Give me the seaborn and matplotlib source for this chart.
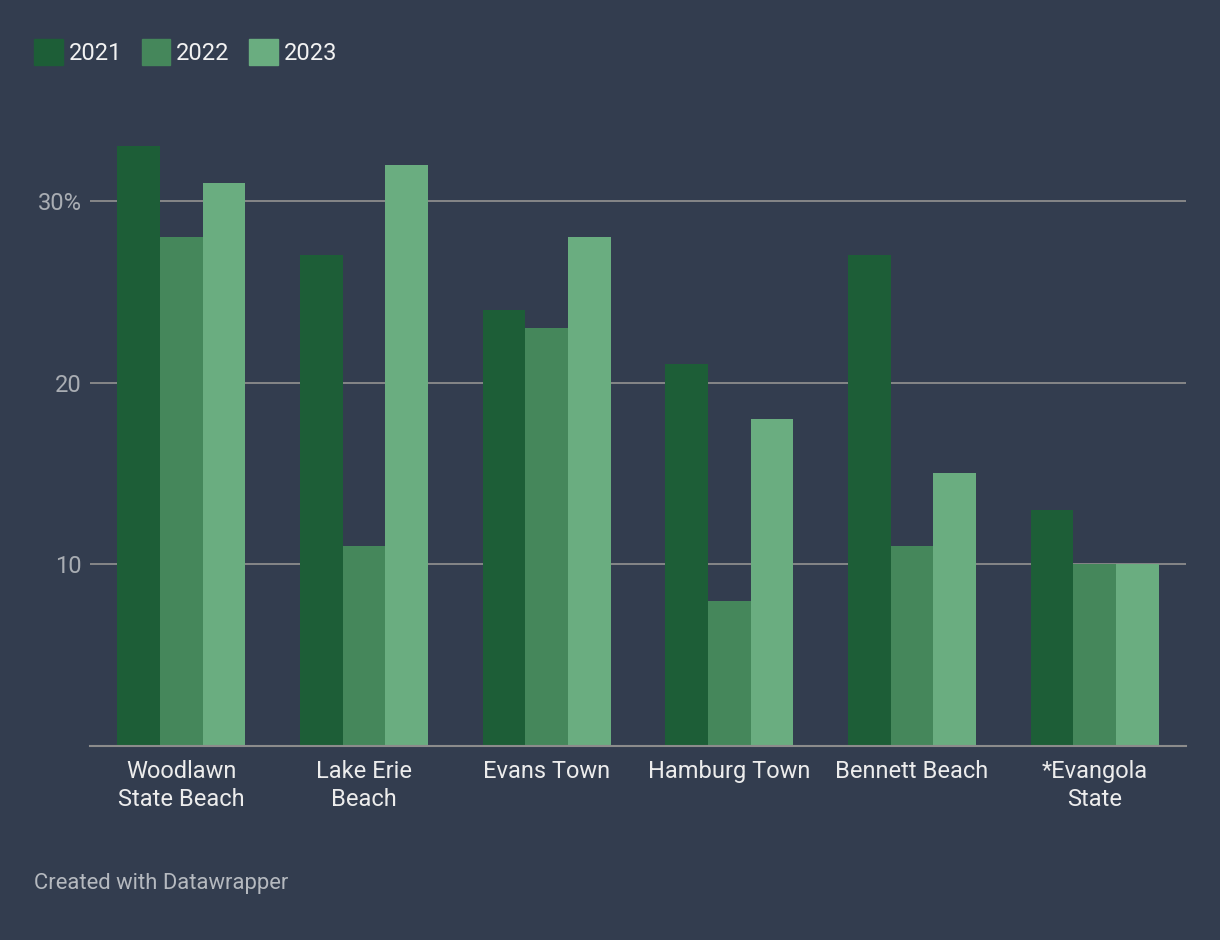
import pandas as pd
import matplotlib.pyplot as plt
import matplotlib.patches as mpatches
import seaborn as sns

# data
BEACHES = ["Woodlawn\nState Beach", "Lake Erie\nBeach", "Evans Town",
           "Hamburg Town", "Bennett Beach", "*Evangola\nState"]
YEARS = ["2021", "2022", "2023"]
V2021 = [33, 27, 24, 21, 27, 13]
V2022 = [28, 11, 23, 8, 11, 10]
V2023 = [31, 32, 28, 18, 15, 10]
YTICKS = [10, 20, 30]
YTICK_LABELS = ["10", "20", "30%"]

BG = "#333d4f"
PALETTE = ["#1d5e37", "#45875b", "#6aad80"]
GRID = "#8c8c8c"

df = pd.DataFrame({
    "beach": BEACHES * 3,
    "year": [y for y in YEARS for _ in BEACHES],
    "value": V2021 + V2022 + V2023,
})

sns.set_theme(style="dark")
plt.rcParams["font.family"] = ["Roboto", "DejaVu Sans"]

fig = plt.figure(figsize=(12.2, 9.4), dpi=100, facecolor=BG)
ax = fig.add_axes([90 / 1220, 1 - 746 / 940, 1096 / 1220, 34 * 18.17 / 940])
ax.set_facecolor(BG)

sns.barplot(data=df, x="beach", y="value", hue="year", palette=PALETTE,
            width=0.7, gap=0, saturation=1, linewidth=0, ax=ax, legend=False,
            zorder=3)

ax.set_xlim(-0.5, 5.5)
ax.set_ylim(0, 34)
ax.set_yticks(YTICKS)
ax.set_yticklabels(YTICK_LABELS)
ax.yaxis.grid(True, color=GRID, linewidth=1.3, zorder=0)
ax.xaxis.grid(False)
ax.set_axisbelow(True)
for s in ["top", "right", "left"]:
    ax.spines[s].set_visible(False)
ax.spines["bottom"].set_color(GRID)
ax.spines["bottom"].set_linewidth(1.5)
ax.spines["bottom"].set_zorder(5)
ax.set_xlabel("")
ax.set_ylabel("")
ax.tick_params(axis="y", length=0, pad=6, labelsize=17, labelcolor="#a9adb3")
ax.tick_params(axis="x", length=0, pad=10, labelsize=17, labelcolor="#ececec")
for lab in ax.get_xticklabels():
    lab.set_linespacing(1.27)

handles = [mpatches.Patch(color=c, label=y) for c, y in zip(PALETTE, YEARS)]
fig.legend(handles=handles, loc="upper left", bbox_to_anchor=(0.0282, 0.958),
           ncol=3, frameon=False, fontsize=17, labelcolor="#f2f2f2",
           handlelength=1.19, handleheight=1.3, handletextpad=0.25,
           columnspacing=0.85, borderaxespad=0, borderpad=0)

fig.text(34 / 1220, 1 - 883 / 940, "Created with Datawrapper", fontsize=15.8,
         color="#b5b9bf", va="center", ha="left")

fig.savefig("out.png", dpi=100, facecolor=BG)
